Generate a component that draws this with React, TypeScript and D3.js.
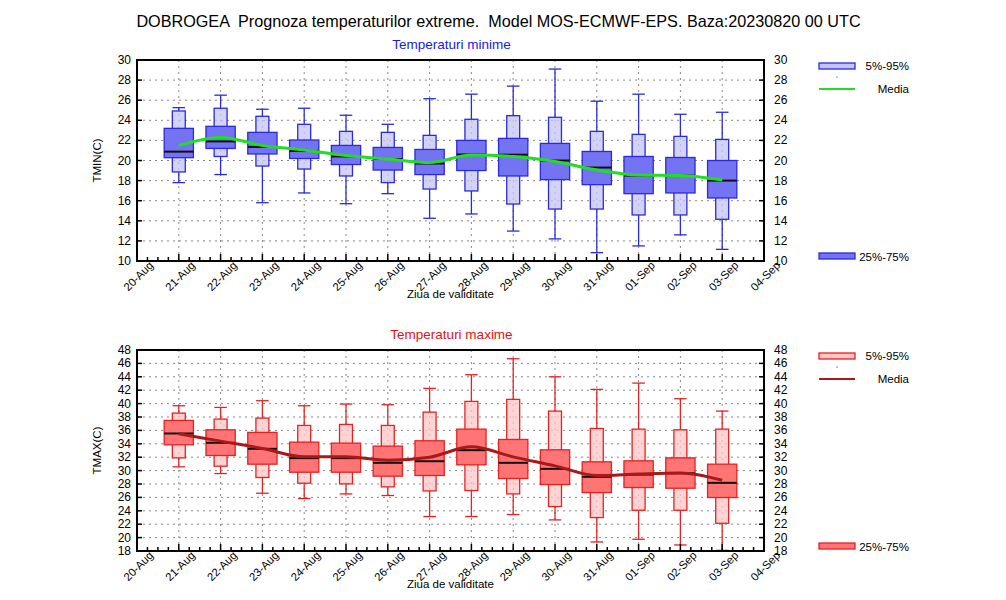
import React from "react";
import * as d3 from "d3";

const dayLabels = ["20-Aug","21-Aug","22-Aug","23-Aug","24-Aug","25-Aug","26-Aug","27-Aug","28-Aug","29-Aug","30-Aug","31-Aug","01-Sep","02-Sep","03-Sep","04-Sep"];
// box days: index 1..14 (21-Aug .. 03-Sep)
const boxDays = [1,2,3,4,5,6,7,8,9,10,11,12,13,14];

const tminMin = [17.8, 18.6, 15.8, 16.77, 15.7, 16.7, 14.25, 14.68, 12.98, 12.2, 10.83, 11.5, 12.6, 11.16];
const tminP5 = [18.86, 20.4, 19.45, 19.15, 18.46, 17.8, 17.16, 16.97, 15.67, 15.17, 15.17, 14.58, 14.58, 14.15];
const tminP25 = [20.28, 21.2, 20.65, 20.2, 19.6, 19.05, 18.6, 19.0, 18.46, 18.1, 17.6, 16.7, 16.77, 16.27];
const tminMed = [20.88, 21.9, 21.35, 20.95, 20.4, 20.15, 19.7, 20.6, 20.58, 20.0, 19.3, 18.5, 18.5, 18.0];
const tminP75 = [23.2, 23.4, 22.8, 22.04, 21.5, 21.3, 21.1, 22.0, 22.2, 21.7, 20.9, 20.4, 20.3, 20.0];
const tminP95 = [24.93, 25.2, 24.4, 23.6, 22.9, 22.8, 22.5, 24.1, 24.46, 24.3, 22.9, 22.6, 22.4, 22.1];
const tminMax = [25.26, 26.5, 25.1, 25.2, 24.5, 23.6, 26.15, 26.6, 27.4, 29.1, 25.9, 26.6, 24.6, 24.8];
const tminMean = [21.5, 22.3, 21.5, 21.05, 20.5, 20.15, 19.8, 20.55, 20.4, 19.9, 19.05, 18.55, 18.5, 18.05];

const tmaxMin = [30.56, 29.56, 26.62, 25.83, 26.52, 26.28, 23.14, 23.14, 23.44, 22.64, 19.35, 19.75, 18.9, 18.1];
const tmaxP5 = [31.9, 30.66, 28.97, 28.12, 28.02, 27.57, 26.97, 27.02, 26.52, 24.63, 22.99, 24.08, 24.08, 22.14];
const tmaxP25 = [33.85, 32.25, 30.96, 29.76, 29.76, 29.17, 29.27, 30.86, 28.82, 27.92, 26.72, 27.47, 27.37, 25.98];
const tmaxMed = [35.54, 34.15, 33.25, 31.86, 31.86, 31.16, 31.4, 33.05, 31.16, 30.26, 29.07, 29.41, 29.61, 28.17];
const tmaxP75 = [37.49, 36.09, 35.7, 34.25, 34.1, 33.65, 34.45, 36.19, 34.65, 33.1, 31.31, 31.46, 31.9, 30.96];
const tmaxP95 = [38.58, 37.69, 37.84, 36.74, 36.89, 36.74, 38.73, 40.33, 40.63, 38.88, 36.29, 36.19, 36.09, 36.19];
const tmaxMax = [39.68, 39.43, 40.43, 39.68, 39.93, 39.83, 42.27, 44.31, 46.7, 44.0, 42.12, 43.06, 40.73, 38.88];
const tmaxMean = [35.5, 34.4, 33.3, 32.05, 32.05, 31.55, 32.0, 33.55, 32.05, 30.7, 29.26, 29.5, 29.66, 28.57];

const tminTicks = d3.range(10, 31, 2);
const tmaxTicks = d3.range(18, 49, 2);

const FONT = "'Liberation Sans', Arial, Helvetica, sans-serif";
const X0 = 137, X1 = 764;

type Panel = {
  top: number; bottom: number; domain: [number, number]; ticks: number[];
  min: number[]; p5: number[]; p25: number[]; med: number[]; p75: number[]; p95: number[]; max: number[]; mean: number[];
  stroke: string; outerFill: string; innerFill: string; meanColor: string;
  subtitle: string; subColor: string; ylabel: string;
};

function PanelView({ p }: { p: Panel }) {
  const x = d3.scaleLinear().domain([0, 15]).range([X0, X1]);
  const y = d3.scaleLinear().domain(p.domain).range([p.bottom, p.top]);
  const day = x(1) - x(0);
  const innerW = day * 0.7, outerW = day * 0.31, capW = day * 0.3;
  const line = d3.line<number>().x((_, i) => x(boxDays[i])).y(d => y(d)).curve(d3.curveMonotoneX);
  const minor = d3.range(0, 15 * 4 + 1).map(i => i / 4);
  const midX = (X0 + X1) / 2;
  const midY = (p.top + p.bottom) / 2;
  return (
    <g>
      <text x={midX + 1} y={p.top - 11} textAnchor="middle" fontSize={13.5} fill={p.subColor} fontFamily={FONT}>{p.subtitle}</text>
      {/* grid */}
      {p.ticks.slice(1, -1).map(t => (
        <line key={"hg" + t} x1={X0} x2={X1} y1={y(t)} y2={y(t)} stroke="#888" strokeWidth={1} strokeDasharray="2,4" />
      ))}
      {d3.range(1, 15).map(d => (
        <line key={"vg" + d} x1={x(d)} x2={x(d)} y1={p.top} y2={p.bottom} stroke="#888" strokeWidth={1} strokeDasharray="2,4" />
      ))}
      {/* whiskers */}
      {boxDays.map((d, i) => (
        <g key={"w" + d} stroke={p.stroke} strokeWidth={1.3}>
          <line x1={x(d)} x2={x(d)} y1={y(p.max[i])} y2={y(p.p95[i])} />
          <line x1={x(d)} x2={x(d)} y1={y(p.p5[i])} y2={y(p.min[i])} />
          <line x1={x(d) - capW / 2} x2={x(d) + capW / 2} y1={y(p.max[i])} y2={y(p.max[i])} />
          <line x1={x(d) - capW / 2} x2={x(d) + capW / 2} y1={y(p.min[i])} y2={y(p.min[i])} />
        </g>
      ))}
      {/* outer boxes */}
      {boxDays.map((d, i) => (
        <rect key={"o" + d} x={x(d) - outerW / 2} width={outerW} y={y(p.p95[i])} height={y(p.p5[i]) - y(p.p95[i])}
          fill={p.outerFill} fillOpacity={0.75} stroke={p.stroke} strokeWidth={1.3} />
      ))}
      {/* inner boxes */}
      {boxDays.map((d, i) => (
        <rect key={"i" + d} x={x(d) - innerW / 2} width={innerW} y={y(p.p75[i])} height={y(p.p25[i]) - y(p.p75[i])}
          fill={p.innerFill} stroke={p.stroke} strokeWidth={1.3} />
      ))}
      {boxDays.map((d, i) => (
        <line key={"m" + d} x1={x(d) - innerW / 2} x2={x(d) + innerW / 2} y1={y(p.med[i])} y2={y(p.med[i])} stroke="#111" strokeWidth={2} />
      ))}
      <path d={line(p.mean) || ""} fill="none" stroke={p.meanColor} strokeWidth={3} />
      {/* frame */}
      <rect x={X0} y={p.top} width={X1 - X0} height={p.bottom - p.top} fill="none" stroke="#000" strokeWidth={2} />
      {/* x ticks */}
      {minor.map(m => {
        const major = Number.isInteger(m);
        return <line key={"xt" + m} x1={x(m)} x2={x(m)} y1={p.bottom} y2={p.bottom - (major ? 7 : 4)} stroke="#000" strokeWidth={1.5} />;
      })}
      {dayLabels.map((lab, d) => (
        <text key={"xl" + d} transform={`translate(${x(d) + 17},${p.bottom + 5}) rotate(-45)`} textAnchor="end"
          fontSize={11.3} fontFamily={FONT} fill="#000">{lab}</text>
      ))}
      {/* y ticks */}
      {p.ticks.map(t => (
        <g key={"yt" + t}>
          <line x1={X0} x2={X0 + 5} y1={y(t)} y2={y(t)} stroke="#000" strokeWidth={1.5} />
          <line x1={X1} x2={X1 - 5} y1={y(t)} y2={y(t)} stroke="#000" strokeWidth={1.5} />
          <text x={X0 - 6} y={y(t) + 4} textAnchor="end" fontSize={12} fontFamily={FONT}>{t}</text>
          <text x={X1 + 10} y={y(t) + 4} textAnchor="start" fontSize={12} fontFamily={FONT}>{t}</text>
        </g>
      ))}
      <text transform={`translate(101,${midY}) rotate(-90)`} textAnchor="middle" fontSize={11.5} fontFamily={FONT}>{p.ylabel}</text>
      <text x={midX} y={p.bottom + 37} textAnchor="middle" fontSize={11.5} fontFamily={FONT}>Ziua de validitate</text>
      {/* legend */}
      <rect x={819} y={p.top + 3} width={36} height={6} fill={p.outerFill} stroke={p.stroke} strokeWidth={1.3} />
      <text x={909} y={p.top + 10} textAnchor="end" fontSize={11.5} fontFamily={FONT}>5%-95%</text>
      <circle cx={837} cy={p.top + 17} r={0.6} fill="#000" />
      <line x1={819} x2={855} y1={p.top + 29} y2={p.top + 29} stroke={p.meanColor} strokeWidth={2} />
      <text x={909} y={p.top + 33} textAnchor="end" fontSize={11.5} fontFamily={FONT}>Media</text>
      <rect x={819} y={p.bottom - 8} width={36} height={6} fill={p.innerFill} stroke={p.stroke} strokeWidth={1.3} />
      <text x={909} y={p.bottom} textAnchor="end" fontSize={11.5} fontFamily={FONT}>25%-75%</text>
    </g>
  );
}

export default function App() {
  const top: Panel = {
    top: 60, bottom: 261, domain: [10, 30], ticks: tminTicks,
    min: tminMin, p5: tminP5, p25: tminP25, med: tminMed, p75: tminP75, p95: tminP95, max: tminMax, mean: tminMean,
    stroke: "#2a2ae0", outerFill: "#c4c4f6", innerFill: "#7474f2", meanColor: "#22dd22",
    subtitle: "Temperaturi minime", subColor: "#1a1ae6", ylabel: "TMIN(C)",
  };
  const bot: Panel = {
    top: 350, bottom: 551, domain: [18, 48], ticks: tmaxTicks,
    min: tmaxMin, p5: tmaxP5, p25: tmaxP25, med: tmaxMed, p75: tmaxP75, p95: tmaxP95, max: tmaxMax, mean: tmaxMean,
    stroke: "#e82020", outerFill: "#ffc6c6", innerFill: "#ff7474", meanColor: "#a81a1a",
    subtitle: "Temperaturi maxime", subColor: "#e81010", ylabel: "TMAX(C)",
  };
  return (
    <div style={{ position: "fixed", left: 0, top: 0, width: 1006, height: 600, background: "#fff" }}>
      <svg width={1006} height={600} style={{ display: "block" }}>
        <rect width={1006} height={600} fill="#fff" />
        <text x={498.5} y={27} textAnchor="middle" fontSize={16.2} fontFamily={FONT} fill="#000" style={{ whiteSpace: "pre" }}>
          {"DOBROGEA  Prognoza temperaturilor extreme.  Model MOS-ECMWF-EPS. Baza:20230820 00 UTC"}
        </text>
        <PanelView p={top} />
        <PanelView p={bot} />
      </svg>
    </div>
  );
}
